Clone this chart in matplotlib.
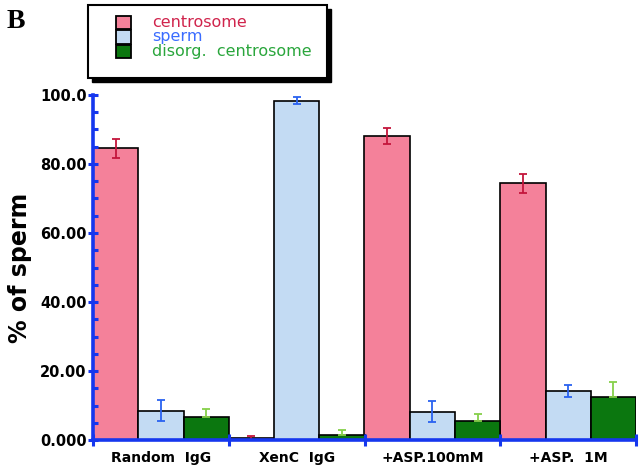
import numpy as np
import matplotlib
matplotlib.use('Agg')
import matplotlib.pyplot as plt
from matplotlib.patches import Rectangle
from matplotlib.ticker import FixedLocator, FixedFormatter, MultipleLocator, NullFormatter

# Data
groups = ['Random  IgG', 'XenC  IgG', '+ASP.100mM', '+ASP.  1M']
series = ['centrosome', 'sperm', 'disorg.  centrosome']
centrosome = [84.5, 0.7, 88.1, 74.4]
sperm = [8.5, 98.3, 8.2, 14.2]
disorg = [6.8, 1.4, 5.6, 12.6]
err_centrosome = [2.8, 0.6, 2.3, 2.8]
err_sperm = [3.0, 1.0, 3.0, 1.6]
err_disorg = [2.2, 1.5, 2.0, 4.3]
ytick_vals = [0, 20, 40, 60, 80, 100]
ytick_labels = ['0.000', '20.00', '40.00', '60.00', '80.00', '100.0']

bar_colors = ['#f4819a', '#c3dbf3', '#0b770f']
err_colors = ['#c4163c', '#2a62f0', '#86d04a']
text_colors = ['#d0244c', '#3a6cff', '#2aa63c']
axis_blue = '#1537ee'

values = [centrosome, sperm, disorg]
errors = [err_centrosome, err_sperm, err_disorg]

W, H = 640, 472
fig = plt.figure(figsize=(6.4, 4.72), dpi=100)
ax = fig.add_axes([93 / W, 1 - 440 / H, (636 - 93) / W, (440 - 95) / H])

x = np.arange(len(groups))
w = 1 / 3
for j, (vals, errs) in enumerate(zip(values, errors)):
    pos = x + (j + 0.5) * w
    ax.bar(pos, vals, width=w, color=bar_colors[j], edgecolor='black',
           linewidth=1.2, zorder=2)
    # disorg. bars only show the upper half of the error bar
    lower = [0] * len(errs) if j == 2 else errs
    ax.errorbar(pos, vals, yerr=[lower, errs], fmt='none', ecolor=err_colors[j],
                elinewidth=1.3, capsize=3, capthick=1.3, zorder=3)

ax.set_xlim(0, len(groups))
ax.set_ylim(0, 100)

for s in ['top', 'right']:
    ax.spines[s].set_visible(False)
for s in ['left', 'bottom']:
    ax.spines[s].set_color(axis_blue)
    ax.spines[s].set_linewidth(2.6)
    ax.spines[s].set_zorder(6)
ax.xaxis.set_zorder(5)
ax.yaxis.set_zorder(5)

ax.yaxis.set_major_locator(FixedLocator(ytick_vals))
ax.yaxis.set_major_formatter(FixedFormatter(ytick_labels))
ax.yaxis.set_minor_locator(MultipleLocator(5))
ax.tick_params(axis='y', which='major', direction='inout', length=7, width=2.2,
               color=axis_blue, pad=1, labelsize=10.5)
ax.tick_params(axis='y', which='minor', direction='in', length=3.5, width=2.2,
               color=axis_blue)
for lab in ax.get_yticklabels():
    lab.set_fontweight('bold')

ax.xaxis.set_major_locator(FixedLocator(np.arange(len(groups) + 1)))
ax.xaxis.set_major_formatter(NullFormatter())
ax.xaxis.set_minor_locator(FixedLocator(x + 0.5))
ax.xaxis.set_minor_formatter(FixedFormatter(groups))
ax.tick_params(axis='x', which='major', direction='inout', length=9, width=2.2,
               color=axis_blue)
ax.tick_params(axis='x', which='minor', length=0, pad=8, labelsize=10)
for lab in ax.get_xticklabels(minor=True):
    lab.set_fontweight('bold')

ax.set_ylabel('% of sperm', fontsize=17, fontweight='bold', labelpad=6)

# panel letter
fig.text(7 / W, 1 - 28 / H, 'B', fontsize=20, fontweight='bold',
         family='Liberation Serif')

# legend box with drop shadow
lx0, ly0, lx1, ly1 = 88, 5, 327, 78
fig.patches.append(Rectangle((lx0 / W + 4 / W, 1 - ly1 / H - 4 / H),
                             (lx1 - lx0) / W, (ly1 - ly0) / H,
                             transform=fig.transFigure, facecolor='black',
                             edgecolor='black', zorder=5))
fig.patches.append(Rectangle((lx0 / W, 1 - ly1 / H), (lx1 - lx0) / W,
                             (ly1 - ly0) / H, transform=fig.transFigure,
                             facecolor='white', edgecolor='black',
                             linewidth=1.5, zorder=6))
for j, name in enumerate(series):
    yc = 22.5 + j * 14.5
    fig.patches.append(Rectangle((116 / W, 1 - (yc + 6.5) / H), 15 / W, 13 / H,
                                 transform=fig.transFigure,
                                 facecolor=bar_colors[j], edgecolor='black',
                                 linewidth=1.3, zorder=7))
    fig.text(152 / W, 1 - yc / H, name, color=text_colors[j], fontsize=11.5,
             va='center', ha='left', zorder=7)

fig.savefig('out.png', dpi=100)
